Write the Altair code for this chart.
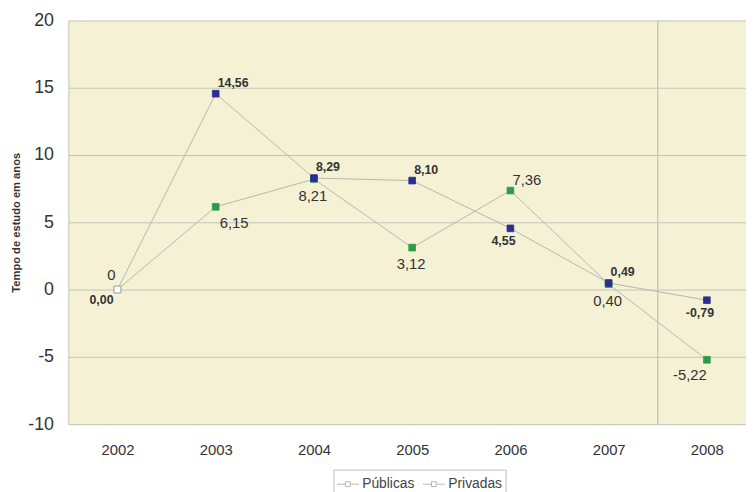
import altair as alt
import pandas as pd

years = [2002, 2003, 2004, 2005, 2006, 2007, 2008]
publicas = [0.00, 14.56, 8.29, 8.10, 4.55, 0.49, -0.79]
privadas = [0.00, 6.15, 8.21, 3.12, 7.36, 0.40, -5.22]
publicas_labels = ["0,00", "14,56", "8,29", "8,10", "4,55", "0,49", "-0,79"]
privadas_labels = ["0", "6,15", "8,21", "3,12", "7,36", "0,40", "-5,22"]
publicas_place = ["sw", "ne", "ne", "ne", "s", "ne", "s"]
privadas_place = ["nw", "se", "s", "s", "ne", "s", "sw"]
divider = [2007.5]
y_ticks = [-10, -5, 0, 5, 10, 15, 20]

FONT = "Liberation Sans"
BLUE = "#2b2e8f"
GREEN = "#2e9b4a"
GRID = "#c4c4bc"
BG = "#f5f1d5"

rows = []
for y, v, l, p in zip(years, publicas, publicas_labels, publicas_place):
    rows.append({"ano": y, "valor": v, "rotulo": l, "pos": p, "serie": "Públicas"})
for y, v, l, p in zip(years, privadas, privadas_labels, privadas_place):
    rows.append({"ano": y, "valor": v, "rotulo": l, "pos": p, "serie": "Privadas"})
df = pd.DataFrame(rows)
div_df = pd.DataFrame({"x": divider})

W, H = 685, 408
step = 99.3
xscale = alt.Scale(domain=[2001.5, 2001.5 + W / step], nice=False, zero=False)
yscale = alt.Scale(domain=[-10, 20], nice=False)

x_enc = alt.X("ano:Q", scale=xscale,
              axis=alt.Axis(values=years, labelExpr="toString(datum.value)", grid=False,
                            ticks=False, domain=False,
                            labelFontSize=15, labelColor="#333333", labelFont=FONT,
                            labelPadding=19, title=None))
y_enc = alt.Y("valor:Q", scale=yscale,
              axis=alt.Axis(values=y_ticks, labelExpr="toString(datum.value)",
                            grid=True, gridColor=GRID, gridWidth=1,
                            ticks=False, domain=True, domainColor=GRID,
                            labelFontSize=18, labelColor="#333333", labelFont=FONT,
                            labelPadding=15,
                            title="Tempo de estudo em anos", titleFont=FONT,
                            titleFontSize=11.3, titleFontWeight="bold", titleColor="#333333",
                            titleX=-52, titleY=H / 2, titleAngle=-90,
                            titleAlign="center", titleBaseline="middle"))

legend_path = "M-1,0H-0.22M0.22,0H1M-0.22,-0.22H0.22V0.22H-0.22Z"

lines = alt.Chart(df).mark_line(strokeWidth=1).encode(
    x=x_enc, y=y_enc,
    color=alt.Color("serie:N", scale=alt.Scale(domain=["Públicas", "Privadas"], range=["#b6b6b2", "#b6b6b2"]),
                    legend=alt.Legend(title=None, orient="none", legendX=268, legendY=454,
                                      direction="horizontal", symbolType=legend_path,
                                      symbolSize=484, symbolStrokeWidth=1,
                                      symbolFillColor="white", symbolStrokeColor="#a0a0a0",
                                      labelFontSize=14, labelFont=FONT, labelColor="#444444",
                                      labelOffset=3, columnPadding=6,
                                      strokeColor="#bbbbbb", padding=3)),
    order="ano:Q",
)

pts_green = alt.Chart(df).transform_filter(alt.datum.serie == "Privadas").mark_square(size=46, strokeWidth=0.8).encode(
    x="ano:Q", y="valor:Q",
    fill=alt.condition(alt.datum.ano == 2002, alt.value("white"), alt.value(GREEN)),
    stroke=alt.condition(alt.datum.ano == 2002, alt.value("#9a9a9a"), alt.value(GREEN)),
    opacity=alt.value(1),
)
pts_blue = alt.Chart(df).transform_filter(alt.datum.serie == "Públicas").mark_square(size=46, strokeWidth=0.8).encode(
    x="ano:Q", y="valor:Q",
    fill=alt.condition(alt.datum.ano == 2002, alt.value("white"), alt.value(BLUE)),
    stroke=alt.condition(alt.datum.ano == 2002, alt.value("#9a9a9a"), alt.value(BLUE)),
    opacity=alt.value(1),
)

rule = alt.Chart(div_df).mark_rule(color="#c0c0b8", strokeWidth=1.2).encode(x="x:Q")

# label placements: (align, dx, dy)
pub_offsets = {"ne": ("left", 2, -7), "s": ("center", -7, 17), "sw": ("right", -4, 15)}
priv_offsets = {"nw": ("right", -2, -10), "se": ("left", 4, 21), "s": ("center", -1, 22),
                "ne": ("left", 2, -6), "sw": ("right", 0, 20)}

text_layers = []
for pos, (al, dx, dy) in pub_offsets.items():
    text_layers.append(
        alt.Chart(df).transform_filter((alt.datum.serie == "Públicas") & (alt.datum.pos == pos))
        .mark_text(align=al, dx=dx, dy=dy, baseline="alphabetic", font=FONT, fontSize=12.5,
                   fontWeight="bold", color="#333333")
        .encode(x="ano:Q", y="valor:Q", text="rotulo:N")
    )
for pos, (al, dx, dy) in priv_offsets.items():
    text_layers.append(
        alt.Chart(df).transform_filter((alt.datum.serie == "Privadas") & (alt.datum.pos == pos))
        .mark_text(align=al, dx=dx, dy=dy, baseline="alphabetic", font=FONT, fontSize=15,
                   color="#333333")
        .encode(x="ano:Q", y="valor:Q", text="rotulo:N")
    )

chart = alt.layer(rule, lines, pts_green, pts_blue, *text_layers).properties(
    width=W, height=H,
    autosize=alt.AutoSizeParams(type="none"),
    padding={"left": 61, "top": 10, "right": 0, "bottom": 66},
    background="white",
).configure_view(fill=BG, stroke=None)

chart.save("out.html", embed_options={"renderer": "svg", "actions": False})
